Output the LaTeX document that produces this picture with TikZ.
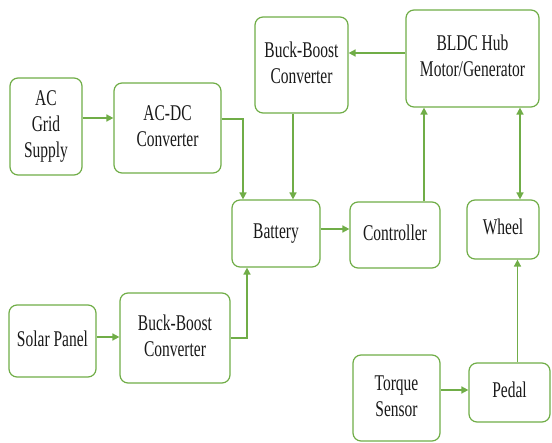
\documentclass[tikz,border=0pt]{standalone}
\usepackage{fontspec}
\setmainfont{Liberation Serif}
\usepackage{graphicx}
\usetikzlibrary{arrows.meta}
\definecolor{linegreen}{RGB}{112,173,71}
\definecolor{textgray}{RGB}{25,25,25}
\newcommand{\blocktext}[1]{\scalebox{1}[1.45]{\begin{tabular}{@{}c@{}}#1\end{tabular}}}
\tikzset{
  block/.style={
    draw=linegreen,
    fill=white,
    line width=1.2pt,
    rounded corners=8pt,
    inner sep=0pt,
    text=textgray,
    font=\rmfamily\fontsize{15.5}{18}\selectfont,
  },
  flow/.style={
    draw=linegreen,
    line width=1.6pt,
    arrows={-Triangle[length=7pt, width=7pt]},
  }
}

\begin{document}
\begin{tikzpicture}[x=1pt, y=-1pt]
    \useasboundingbox (0, 0) rectangle (552, 443);

    \node[block, minimum width=72pt, minimum height=97pt] (acgrid) at (46, 126.5) {\blocktext{AC\\Grid\\Supply}};
    \node[block, minimum width=107pt, minimum height=90pt] (acdc) at (167.5, 128) {\blocktext{AC-DC\\Converter}};
    \node[block, minimum width=93pt, minimum height=96pt] (bbtop) at (301.5, 65) {\blocktext{Buck-Boost\\Converter}};
    \node[block, minimum width=133pt, minimum height=97pt] (bldc) at (472.5, 58.5) {\blocktext{BLDC Hub\\Motor/Generator}};
    \node[block, minimum width=88pt, minimum height=67pt] (battery) at (276, 233.5) {\blocktext{Battery}};
    \node[block, minimum width=90pt, minimum height=66pt] (controller) at (395, 235) {\blocktext{Controller}};
    \node[block, minimum width=72pt, minimum height=59pt] (wheel) at (503, 229.5) {\blocktext{Wheel}};
    \node[block, minimum width=87pt, minimum height=72pt] (solar) at (52.5, 341) {\blocktext{Solar Panel}};
    \node[block, minimum width=110pt, minimum height=90pt] (bbsolar) at (175, 338) {\blocktext{Buck-Boost\\Converter}};
    \node[block, minimum width=87pt, minimum height=86pt] (torque) at (396.5, 398) {\blocktext{Torque\\Sensor}};
    \node[block, minimum width=81pt, minimum height=59pt] (pedal) at (509.5, 392.5) {\blocktext{Pedal}};

    % charging paths into the battery
    \draw[flow] ([yshift=8.5pt]acgrid.east) -- ([yshift=8.5pt]acgrid.east -| acdc.west);
    \draw[flow] ([yshift=9pt]acdc.east) -| ([xshift=-33pt]battery.north);
    \draw[flow] ([yshift=4pt]solar.east) -- ([yshift=4pt]solar.east -| bbsolar.west);
    \draw[flow] (bbsolar.east) -| ([xshift=-29pt]battery.south);

    % regeneration
    \draw[flow] ([yshift=5.5pt]bldc.west) -- ([yshift=5.5pt]bldc.west -| bbtop.east);
    \draw[flow] ([xshift=-8.5pt]bbtop.south) -- ([xshift=-8.5pt]bbtop.south |- battery.north);

    % drive
    \draw[flow] ([yshift=4.5pt]battery.east) -- ([yshift=4.5pt]battery.east -| controller.west);
    \draw[flow] ([xshift=29pt]controller.north) -- ([xshift=29pt]controller.north |- bldc.south);
    \draw[flow, arrows={Triangle[length=7pt, width=7pt]-Triangle[length=7pt, width=7pt]}] ([xshift=17pt]wheel.north) -- ([xshift=17pt]wheel.north |- bldc.south);

    % pedal assist
    \draw[flow] ([yshift=8pt]torque.east) -- ([yshift=8pt]torque.east -| pedal.west);
    \draw[flow] ([xshift=8pt]pedal.north) -- ([xshift=8pt]pedal.north |- wheel.south);

\end{tikzpicture}
\end{document}
